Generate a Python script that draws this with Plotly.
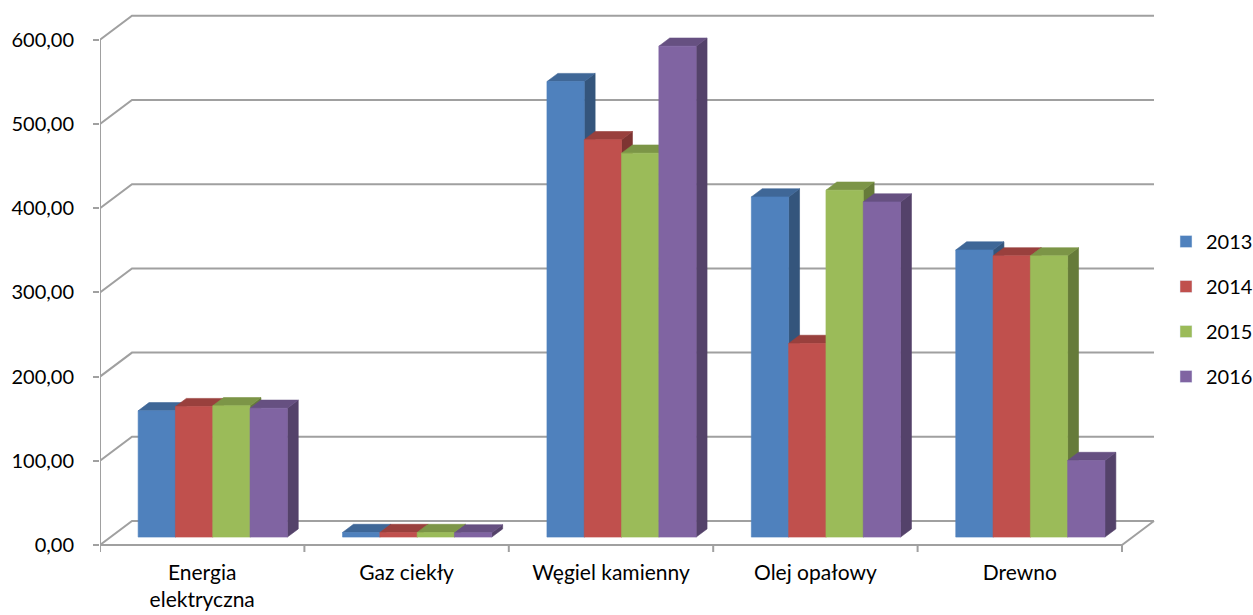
import plotly.graph_objects as go

# ---------------- data ----------------
categories = ["Energia<br>elektryczna", "Gaz ciekły", "Węgiel kamienny", "Olej opałowy", "Drewno"]
years = ["2013", "2014", "2015", "2016"]
v2013 = [150, 5.5, 541, 404, 341]
v2014 = [155, 5.5, 472, 230, 334]
v2015 = [156, 5.5, 456, 412, 334]
v2016 = [153, 5.0, 583, 398, 91]
y_ticks = [0, 100, 200, 300, 400, 500, 600]

series = [v2013, v2014, v2015, v2016]
colors = ["#4F81BD", "#C0504D", "#9BBB59", "#8064A2"]

# ---------------- geometry (pixel targets) ----------------
W, H = 1253, 615
PX_LEFT, PX_FRONT_RIGHT = 100, 1122
PX_ZERO, PX_PER_UNIT = 545, 0.842
PLOT_RIGHT, PLOT_TOP, PLOT_BOTTOM = 1171, 8, 556
ux = (PX_FRONT_RIGHT - PX_LEFT) / len(categories)
DX = 32 / ux          # full depth offset in x units
DY = 24 / PX_PER_UNIT  # full depth offset in y units
F0, F1 = 0.33, 0.67   # bar depth span (fraction of full depth)
GAP = 0.135
BW = (1 - 2 * GAP) / len(series)

x_range = [0, (PLOT_RIGHT - PX_LEFT) / ux]
y_range = [-(PLOT_BOTTOM - PX_ZERO) / PX_PER_UNIT, (PX_ZERO - PLOT_TOP) / PX_PER_UNIT]


def shade(hexc, f):
    r, g, b = int(hexc[1:3], 16), int(hexc[3:5], 16), int(hexc[5:7], 16)
    return "#%02X%02X%02X" % (int(r * f), int(g * f), int(b * f))


fig = go.Figure()

# ---------------- walls / gridlines ----------------
gx, gy = [], []
ncat = len(categories)
for v in y_ticks:
    gx += [0, DX, ncat + DX, None]
    gy += [v, v + DY, v + DY, None]
# floor front edge and right edge
gx += [0, ncat, ncat + DX, None]
gy += [0, 0, DY, None]
# vertical axis line
gx += [0, 0, None]
gy += [0, y_ticks[-1], None]
# category tick marks
for i in range(ncat + 1):
    gx += [i, i, None]
    gy += [0, -7 / PX_PER_UNIT, None]
fig.add_trace(go.Scatter(x=gx, y=gy, mode="lines", line=dict(color="#A0A0A0", width=2),
                         hoverinfo="skip", showlegend=False, cliponaxis=False))

# ---------------- 3D bars ----------------
bx0 = F0 * DX
by0 = F0 * DY
ddx = (F1 - F0) * DX
ddy = (F1 - F0) * DY
for k, vals in enumerate(series):
    c = colors[k]
    side_x, side_y, top_x, top_y, fr_x, fr_y = [], [], [], [], [], []
    for i, v in enumerate(vals):
        xl = i + GAP + k * BW + bx0
        xr = xl + BW
        yb = by0
        yt = by0 + v
        fr_x += [xl, xr, xr, xl, xl, None]
        fr_y += [yb, yb, yt, yt, yb, None]
        side_x += [xr, xr + ddx, xr + ddx, xr, xr, None]
        side_y += [yb, yb + ddy, yt + ddy, yt, yb, None]
        top_x += [xl, xr, xr + ddx, xl + ddx, xl, None]
        top_y += [yt, yt, yt + ddy, yt + ddy, yt, None]
    for xs, ys, col in [(side_x, side_y, shade(c, 0.66)), (top_x, top_y, shade(c, 0.8)), (fr_x, fr_y, c)]:
        fig.add_trace(go.Scatter(x=xs, y=ys, mode="lines", fill="toself", fillcolor=col,
                                 line=dict(color=col, width=0.6), hoverinfo="skip",
                                 showlegend=False))

# legend entries
for k, yr in enumerate(years):
    fig.add_trace(go.Bar(x=[None], y=[None], name=yr, marker_color=colors[k],
                         legendgroup=yr, showlegend=True))

fig.update_layout(
    width=W, height=H,
    paper_bgcolor="white", plot_bgcolor="white",
    separators=", ",
    font=dict(family="Lato, 'Open Sans', sans-serif", size=20, color="#000000"),
    margin=dict(l=PX_LEFT, r=W - PLOT_RIGHT, t=PLOT_TOP, b=H - PLOT_BOTTOM, autoexpand=False),
    showlegend=True,
    legend=dict(x=(1166 - PX_LEFT) / (PLOT_RIGHT - PX_LEFT), xanchor="left",
                y=(PLOT_BOTTOM - 309) / (PLOT_BOTTOM - PLOT_TOP), yanchor="middle",
                traceorder="grouped", tracegroupgap=16,
                font=dict(size=20), bgcolor="rgba(0,0,0,0)"),
    xaxis=dict(range=x_range, showgrid=False, zeroline=False, showline=False,
               tickmode="array", tickvals=[i + 0.5 for i in range(ncat)], ticktext=categories,
               ticks="", ticklabelstandoff=2, tickfont=dict(size=21)),
    yaxis=dict(range=y_range, showgrid=False, zeroline=False, showline=False,
               tickmode="array", tickvals=y_ticks, tickformat=".2f",
               ticks="outside", ticklen=6, tickwidth=2, tickcolor="#A0A0A0",
               ticklabelstandoff=15),
)

fig.write_html("out.html", config={"displayModeBar": False},
               post_script="document.body.style.margin='0px';document.body.style.overflow='hidden';")
